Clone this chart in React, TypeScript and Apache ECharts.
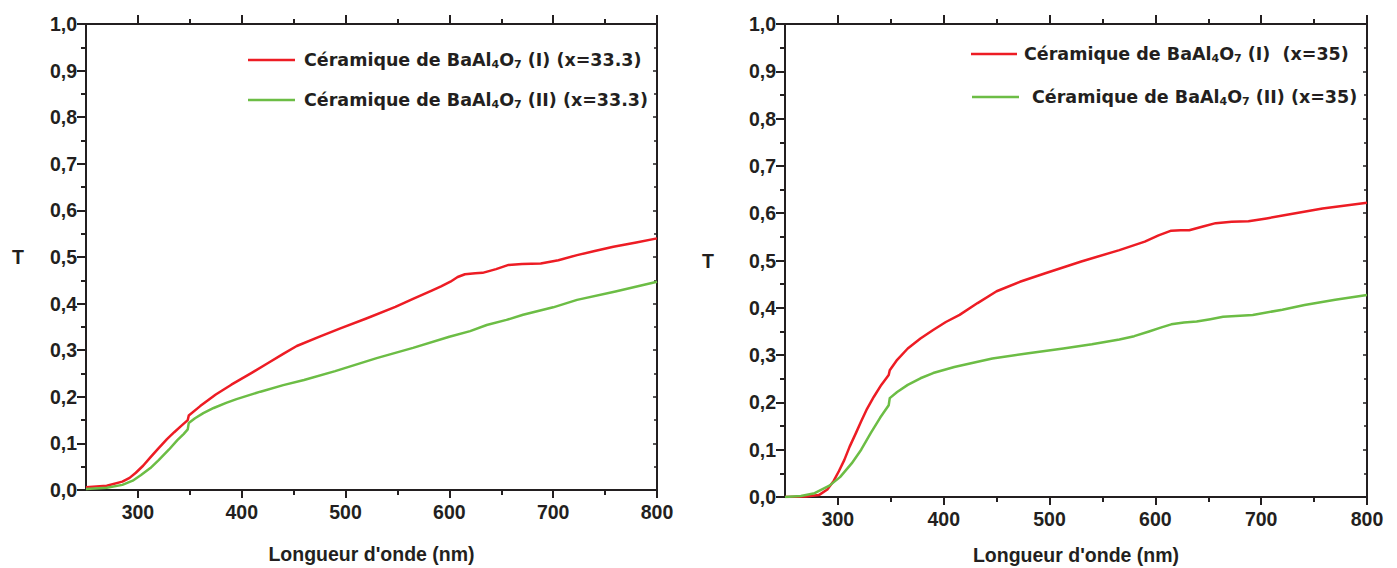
import React, { useEffect, useRef } from 'react';
import * as echarts from 'echarts';

// ---------- data ----------
const wlRedLeft = [250, 270, 285, 292, 298, 305, 312, 320, 328, 335, 342, 348, 349, 360, 375, 390, 410, 425, 440, 453, 475, 495, 520, 548, 565, 583, 592, 601, 608, 615, 625, 632, 645, 657, 670, 688, 705, 723, 740, 758, 780, 800];
const tRedLeft = [0.006, 0.009, 0.018, 0.026, 0.037, 0.052, 0.07, 0.09, 0.109, 0.124, 0.138, 0.15, 0.16, 0.18, 0.205, 0.226, 0.252, 0.272, 0.292, 0.309, 0.329, 0.347, 0.368, 0.393, 0.41, 0.428, 0.437, 0.447, 0.457, 0.463, 0.465, 0.466, 0.474, 0.483, 0.485, 0.486, 0.493, 0.504, 0.513, 0.522, 0.531, 0.54];

const wlGreenLeft = [250, 270, 285, 295, 303, 312, 320, 330, 338, 344, 348, 349, 355, 363, 373, 385, 395, 418, 440, 460, 490, 530, 565, 600, 620, 636, 655, 671, 700, 723, 760, 800];
const tGreenLeft = [0.002, 0.005, 0.011, 0.02, 0.032, 0.047, 0.064, 0.087, 0.107, 0.12, 0.13, 0.144, 0.154, 0.165, 0.176, 0.187, 0.195, 0.211, 0.225, 0.236, 0.255, 0.283, 0.305, 0.329, 0.341, 0.354, 0.365, 0.376, 0.392, 0.408, 0.426, 0.447];

const wlRedRight = [250, 270, 282, 290, 296, 301, 306, 311, 317, 322, 327, 334, 341, 348, 349, 356, 366, 378, 390, 402, 415, 432, 450, 472, 496, 530, 566, 590, 603, 615, 624, 632, 645, 657, 672, 688, 705, 723, 758, 800];
const tRedRight = [0.0, 0.001, 0.004, 0.016, 0.034, 0.055, 0.078, 0.106, 0.135, 0.16, 0.184, 0.212, 0.237, 0.258, 0.268, 0.29, 0.314, 0.335, 0.353, 0.37, 0.385, 0.41, 0.435, 0.455, 0.473, 0.498, 0.522, 0.54, 0.553, 0.563, 0.564, 0.564, 0.572, 0.579, 0.582, 0.583, 0.589, 0.596, 0.61, 0.622];

const wlGreenRight = [250, 265, 278, 292, 302, 313, 322, 331, 340, 348, 349, 356, 366, 378, 390, 410, 430, 446, 480, 513, 540, 566, 580, 594, 605, 615, 627, 639, 652, 664, 692, 720, 741, 770, 800];
const tGreenRight = [0.0, 0.002, 0.008, 0.024, 0.042, 0.071, 0.1, 0.135, 0.168, 0.194, 0.209, 0.222, 0.237, 0.251, 0.262, 0.275, 0.285, 0.293, 0.304, 0.314, 0.323, 0.333, 0.34, 0.35, 0.358, 0.365, 0.369, 0.371, 0.376, 0.381, 0.385, 0.396, 0.406, 0.417, 0.427];

const xMajorTicks = [300, 400, 500, 600, 700, 800];
const xMinorTicks = [350, 450, 550, 650, 750];

const nameRedLeft = 'Céramique de BaAl4O7 (I) (x=33.3)';
const nameGreenLeft = 'Céramique de BaAl4O7 (II) (x=33.3)';
const nameRedRight = 'Céramique de BaAl4O7 (I)  (x=35)';
const nameGreenRight = 'Céramique de BaAl4O7 (II) (x=35)';

const xTitle = "Longueur d'onde (nm)";
const yTitle = 'T';

// ---------- styles ----------
const INK = '#231f20';
const RED = '#ed1c24';
const GREEN = '#6cbd45';
const AXIS_FONT = '"Liberation Sans", Arial, sans-serif';
const LEGEND_FONT = '"DejaVu Sans", sans-serif';

const zip = (xs: number[], ys: number[]) => xs.map((x, i) => [x, ys[i]]);

const axisLine = { show: true, lineStyle: { color: INK, width: 2 } };
const tickLine = { color: INK, width: 2 };

function buildXAxes(gridIndex: number, nameGap: number) {
  const common = { type: 'value', gridIndex, min: 250, max: 800, splitLine: { show: false } };
  return [
    {
      ...common,
      position: 'bottom',
      name: xTitle,
      nameLocation: 'middle',
      nameGap,
      nameTextStyle: { fontFamily: AXIS_FONT, fontWeight: 'bold', fontSize: 19.5, color: INK },
      axisLine,
      axisTick: { show: true, customValues: xMajorTicks, length: 8, lineStyle: tickLine },
      axisLabel: {
        show: true,
        customValues: xMajorTicks,
        margin: 12,
        fontFamily: AXIS_FONT,
        fontWeight: 'bold',
        fontSize: 19.5,
        color: INK,
      },
    },
    {
      ...common,
      position: 'bottom',
      axisLine: { show: false },
      axisTick: { show: true, customValues: xMinorTicks, length: 5, lineStyle: tickLine },
      axisLabel: { show: false },
    },
    {
      ...common,
      position: 'top',
      axisLine,
      axisTick: { show: true, customValues: xMajorTicks, length: 9, lineStyle: tickLine },
      axisLabel: { show: false },
    },
    {
      ...common,
      position: 'top',
      axisLine: { show: false },
      axisTick: { show: true, customValues: xMinorTicks, length: 5, lineStyle: tickLine },
      axisLabel: { show: false },
    },
  ];
}

function buildYAxes(gridIndex: number, nameGap: number) {
  const common = { type: 'value', gridIndex, min: 0, max: 1, interval: 0.1, splitLine: { show: false } };
  return [
    {
      ...common,
      position: 'left',
      name: yTitle,
      nameLocation: 'middle',
      nameGap,
      nameRotate: 0,
      nameTextStyle: { fontFamily: AXIS_FONT, fontWeight: 'bold', fontSize: 19.5, color: INK },
      axisLine,
      axisTick: { show: true, length: 9, lineStyle: tickLine },
      minorTick: { show: true, splitNumber: 2, length: 5, lineStyle: tickLine },
      axisLabel: {
        show: true,
        margin: 9,
        formatter: (v: number) => v.toFixed(1).replace('.', ','),
        fontFamily: AXIS_FONT,
        fontWeight: 'bold',
        fontSize: 19.5,
        color: INK,
      },
    },
    {
      ...common,
      position: 'right',
      axisLine,
      axisTick: { show: true, inside: true, length: 4, lineStyle: { color: INK, width: 1.5 } },
      minorTick: { show: true, splitNumber: 2, length: 3, lineStyle: { color: INK, width: 1.5 } },
      axisLabel: { show: false },
    },
  ];
}

function legendFor(name: string, left: number, top: number, itemWidth: number, gap: number) {
  return {
    show: true,
    data: [{ name, icon: 'rect' }],
    left,
    top,
    orient: 'vertical',
    selectedMode: false,
    itemWidth,
    itemHeight: 2.5,
    padding: 0,
    formatter: (n: string) => n.replace('Al4O7', 'Al{s|4}O{s|7}'),
    textStyle: {
      fontFamily: LEGEND_FONT,
      fontWeight: 'bold',
      fontSize: 17.5,
      lineHeight: 20,
      color: INK,
      padding: [0, 0, 0, gap],
      rich: {
        s: {
          fontFamily: LEGEND_FONT,
          fontWeight: 'bold',
          fontSize: 11,
          lineHeight: 12,
          verticalAlign: 'bottom',
          color: INK,
        },
      },
    },
  };
}

function lineSeries(name: string, data: number[][], color: string, xAxisIndex: number, yAxisIndex: number) {
  return {
    type: 'line',
    name,
    data,
    xAxisIndex,
    yAxisIndex,
    symbol: 'none',
    showSymbol: false,
    smooth: false,
    color,
    itemStyle: { color },
    lineStyle: { color, width: 2.5, join: 'round' },
  };
}

export default function App() {
  const ref = useRef<HTMLDivElement>(null);

  useEffect(() => {
    if (!ref.current) return;
    const chart = echarts.init(ref.current, undefined, { renderer: 'svg' });
    const option: any = {
      animation: false,
      backgroundColor: '#ffffff',
      grid: [
        { left: 86, right: 740, top: 24, bottom: 78, containLabel: false, outerBoundsMode: 'none' },
        { left: 785, right: 30, top: 24, bottom: 71, containLabel: false, outerBoundsMode: 'none' },
      ],
      xAxis: [...buildXAxes(0, 54), ...buildXAxes(1, 48)],
      yAxis: [...buildYAxes(0, 62), ...buildYAxes(1, 71)],
      legend: [
        legendFor(nameRedLeft, 248, 50, 47, 4),
        legendFor(nameGreenLeft, 248, 90, 47, 4),
        legendFor(nameRedRight, 971, 44, 46, 2),
        legendFor(nameGreenRight, 972, 87, 47, 8),
      ],
      series: [
        lineSeries(nameRedLeft, zip(wlRedLeft, tRedLeft), RED, 0, 0),
        lineSeries(nameGreenLeft, zip(wlGreenLeft, tGreenLeft), GREEN, 0, 0),
        lineSeries(nameRedRight, zip(wlRedRight, tRedRight), RED, 4, 2),
        lineSeries(nameGreenRight, zip(wlGreenRight, tGreenRight), GREEN, 4, 2),
      ],
    };
    chart.setOption(option);
    return () => chart.dispose();
  }, []);

  return (
    <div
      ref={ref}
      style={{ position: 'absolute', left: 0, top: 0, width: 1397, height: 568, background: '#fff' }}
    />
  );
}
